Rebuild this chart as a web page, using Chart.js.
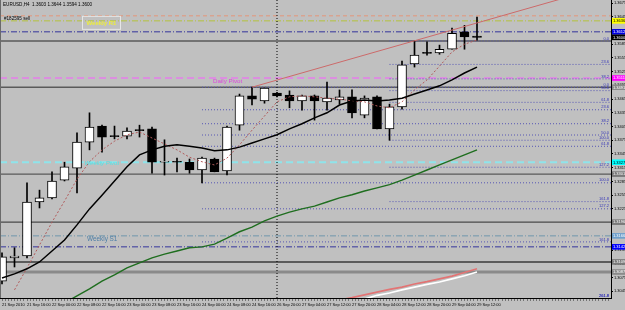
<!DOCTYPE html>
<html><head><meta charset="utf-8">
<script src="https://cdn.jsdelivr.net/npm/chart.js@4/dist/chart.umd.min.js"></script>
<style>html,body{margin:0;padding:0;background:#c0c0c0;overflow:hidden}canvas{display:block}</style>
</head><body>
<canvas id="c" width="625" height="310"></canvas>
<script>
// ---- data (EURUSD H4, 21 Sep 08:00 .. 29 Sep 12:00) ----
const candleOpen  = [1.3067,1.3118,1.3122,1.3240,1.3249,1.3288,1.3314,1.3371,1.3406,1.3384,1.3384,1.3397,1.3400,1.3327,1.3328,1.3327,1.3310,1.3334,1.3308,1.3408,1.3472,1.3461,1.3478,1.3474,1.3461,1.3472,1.3459,1.3463,1.3470,1.3430,1.3470,1.3400,1.3448,1.3542,1.3566,1.3566,1.3574,1.3612,1.3603];
const candleHigh  = [1.3129,1.3140,1.3282,1.3266,1.3306,1.3327,1.3391,1.3435,1.3408,1.3406,1.3402,1.3408,1.3404,1.3376,1.3336,1.3334,1.3338,1.3336,1.3406,1.3476,1.3491,1.3489,1.3480,1.3483,1.3474,1.3474,1.3502,1.3485,1.3485,1.3472,1.3472,1.3454,1.3548,1.3592,1.3590,1.3583,1.3620,1.3626,1.3644];
const candleLow   = [1.3061,1.3098,1.3118,1.3227,1.3247,1.3286,1.3260,1.3354,1.3349,1.3378,1.3378,1.3382,1.3303,1.3299,1.3306,1.3303,1.3282,1.3306,1.3299,1.3397,1.3452,1.3456,1.3470,1.3446,1.3441,1.3419,1.3441,1.3454,1.3424,1.3424,1.3400,1.3375,1.3443,1.3535,1.3561,1.3563,1.3574,1.3574,1.3594];
const candleClose = [1.3120,1.3122,1.3240,1.3249,1.3286,1.3317,1.3371,1.3404,1.3382,1.3383,1.3395,1.3396,1.3327,1.3328,1.3327,1.3310,1.3336,1.3306,1.3404,1.3472,1.3465,1.3489,1.3472,1.3461,1.3472,1.3461,1.3467,1.3470,1.3435,1.3467,1.3400,1.3448,1.3540,1.3561,1.3565,1.3574,1.3609,1.3601,1.3600];

const timeLabels = ["21 Sep 2010","21 Sep 16:00","22 Sep 00:00","22 Sep 08:00","22 Sep 16:00","23 Sep 00:00","23 Sep 08:00","23 Sep 16:00","24 Sep 00:00","24 Sep 08:00","24 Sep 16:00","26 Sep 20:00","27 Sep 04:00","27 Sep 12:00","27 Sep 20:00","28 Sep 04:00","28 Sep 12:00","28 Sep 20:00","29 Sep 04:00","29 Sep 12:00"];
const priceTicks = [1.3675,1.3645,1.3615,1.3585,1.3555,1.3525,1.3495,1.3465,1.3435,1.3405,1.3375,1.3345,1.3315,1.3285,1.3255,1.3225,1.3195,1.3165,1.3135,1.3105,1.3075,1.3045];

const maBlack = [1.3074,1.3083,1.3094,1.3109,1.3133,1.3157,1.3190,1.3225,1.3255,1.3286,1.3317,1.3343,1.3354,1.3362,1.3365,1.3362,1.3358,1.3352,1.3354,1.3360,1.3369,1.3378,1.3387,1.3400,1.3411,1.3424,1.3435,1.3452,1.3461,1.3463,1.3461,1.3463,1.3467,1.3476,1.3485,1.3494,1.3507,1.3522,1.3535];
const maGreen = [null,null,null,null,null,1.3019,1.3035,1.3050,1.3067,1.3081,1.3096,1.3107,1.3118,1.3126,1.3133,1.3140,1.3142,1.3148,1.3161,1.3175,1.3185,1.3199,1.3209,1.3218,1.3225,1.3231,1.3240,1.3249,1.3256,1.3264,1.3271,1.3278,1.3288,1.3299,1.3310,1.3321,1.3332,1.3343,1.3354];
const maRedDot = [null,1.3048,1.3096,1.3146,1.3196,1.3242,1.3290,1.3328,1.3354,1.3373,1.3387,1.3393,1.3380,1.3367,1.3354,1.3338,1.3328,1.3321,1.3336,1.3365,1.3397,1.3428,1.3459,1.3470,1.3472,1.3470,1.3467,1.3465,1.3461,1.3459,1.3450,1.3446,1.3459,1.3485,1.3507,1.3537,1.3568,1.3585,1.3594];
const maLongRed = [null,null,null,null,null,null,null,null,null,null,null,null,null,null,null,null,null,null,null,null,null,null,null,null,null,null,null,1.3026,1.3031,1.3037,1.3043,1.3049,1.3054,1.3061,1.3066,1.3072,1.3078,1.3086,1.3094];
const maLongWhite = [null,null,null,null,null,null,null,null,null,null,null,null,null,null,null,null,null,null,null,null,null,null,null,null,null,null,null,null,1.3020,1.3028,1.3036,1.3041,1.3048,1.3054,1.3060,1.3065,1.3072,1.3079,1.3087];

const levelPrices = [1.3647,1.3636,1.3612,1.3592,1.3511,1.3491,1.3327,1.3301,1.3196,1.3166,1.3142,1.3109,1.3087];
const fibRatios = [0,23.6,38.2,50,61.8,100,127.2,161.8,261.8];
const fibStartIdx = [16,31];
const fibLowIdx = [16,31];
const fibHighIdx = [20,33];
const trendIdx = [20,48.7];
const trendPrice = [1.3491,1.3715];
const separatorIdx = 22;

// ---- geometry of the MT4 window ----
const X_MIN=-0.16, X_MAX=48.72, Y_MIN=1.30302, Y_MAX=1.36816;

const levelStyles = [
  {c:'#e4967a',w:1,d:[4,3]},
  {c:'#b4c23c',w:1,d:[6,2,1,2]},
  {c:'#34349c',w:1,d:[6,2,1,2]},
  {c:'#5a5a5a',w:1.4,d:[]},
  {c:'#dc8ee0',w:2,d:[7,4]},
  {c:'#5a5a5a',w:1.4,d:[]},
  {c:'#8ee4ea',w:2,d:[7,4]},
  {c:'#5a5a5a',w:1.4,d:[]},
  {c:'#4a4a4a',w:1.4,d:[]},
  {c:'#6f96ac',w:1,d:[6,2,1,2]},
  {c:'#34349c',w:1,d:[6,2,1,2]},
  {c:'#3a3a3a',w:1.4,d:[]},
  {c:'#8a8a8a',w:3,d:[]}
];
const levelTags = [null,['#ffff00','#000'],['#0000e0','#fff'],null,['#ff00ff','#fff'],['#8a8a8a','#fff'],['#00ffff','#000'],['#7a7a7a','#fff'],['#7a7a7a','#fff'],['#6fa0cc','#fff'],['#0000ff','#fff'],['#7a7a7a','#fff'],['#8a8a8a','#fff']];

const datasets = [];
levelPrices.forEach((p,i)=>{
  datasets.push({type:'line',data:[{x:X_MIN,y:p},{x:X_MAX,y:p}],borderColor:levelStyles[i].c,borderWidth:levelStyles[i].w,borderDash:levelStyles[i].d,pointRadius:0,order:20});
});
fibStartIdx.forEach((s,k)=>{
  const hi=candleHigh[fibHighIdx[k]], lo=candleLow[fibLowIdx[k]];
  fibRatios.forEach(r=>{
    const p=hi-(hi-lo)*r/100;
    datasets.push({type:'line',data:[{x:s,y:p},{x:X_MAX,y:p}],borderColor:'#5656b4',borderWidth:1,borderDash:[1,2],pointRadius:0,order:19});
  });
});
datasets.push({type:'line',data:[{x:separatorIdx,y:Y_MIN},{x:separatorIdx,y:Y_MAX}],borderColor:'#000',borderWidth:1,borderDash:[1,2],pointRadius:0,order:18});
datasets.push({type:'bar',data:candleHigh.map((h,i)=>({x:i,y:[candleLow[i],h]})),backgroundColor:'#000',borderWidth:0,barThickness:1,grouped:false,order:10});
datasets.push({type:'bar',data:candleOpen.map((o,i)=>({x:i,y:[o,candleClose[i]]})),
  backgroundColor:candleOpen.map((o,i)=>candleClose[i]>=o?'#ffffff':'#000000'),
  borderColor:'#000',borderWidth:1,borderSkipped:false,barThickness:9,minBarLength:1,grouped:false,order:9});
function lineDs(arr,color,w,dash,order){
  return {type:'line',data:arr.map((v,i)=>({x:i,y:v})),borderColor:color,borderWidth:w,borderDash:dash,pointRadius:0,tension:0,spanGaps:false,order};
}
datasets.push(lineDs(maLongRed,'#e27474',1.6,[],5));
datasets.push(lineDs(maLongWhite,'#ffffff',1.6,[],5));
datasets.push(lineDs(maGreen,'#1f6e1f',1.4,[],4));
datasets.push(lineDs(maRedDot,'#b25a5a',1,[2,2],3));
datasets.push(lineDs(maBlack,'#000000',1.5,[],2));
datasets.push({type:'line',data:trendIdx.map((x,i)=>({x,y:trendPrice[i]})),borderColor:'#cc6a6a',borderWidth:1,pointRadius:0,order:1});

const FONT='"Liberation Sans", Arial, sans-serif';
const bg={id:'bg',beforeDraw(c){const g=c.ctx;g.save();g.fillStyle='#c0c0c0';g.fillRect(0,0,c.width,c.height);g.restore();}};
const annot={id:'annot',afterDraw(c){
  const g=c.ctx, xs=c.scales.x, ys=c.scales.y, A=c.chartArea;
  g.save();
  // frame
  g.strokeStyle='#6a6a6a';g.lineWidth=1;g.beginPath();g.moveTo(0.5,0);g.lineTo(0.5,A.bottom);g.stroke();
  // header
  g.fillStyle='#000';g.font='4.6px '+FONT;g.textBaseline='middle';g.textAlign='left';
  g.fillText('EURUSD,H4  1.3603 1.3644 1.3594 1.3600',3,4.5);
  const yS=ys.getPixelForValue(levelPrices[1]);
  g.fillText('#182595 sell',4,yS-2.5);
  // Weekly R1 label
  g.strokeStyle='#e6e6e6';g.lineWidth=1;g.strokeRect(82.5,yS-4.5,38,13);
  g.fillStyle='#ecec3c';g.font='bold 6px '+FONT;g.textAlign='center';g.fillText('Weekly R1',101.5,yS+2);
  // Daily Pivot
  g.textAlign='left';g.font='6.2px '+FONT;g.fillStyle='#dc46dc';
  g.fillText('Daily Pivot',xs.getPixelForValue(16.88),ys.getPixelForValue(levelPrices[4])+3.5);
  g.font='italic 6px '+FONT;g.fillStyle='#52e2e6';
  g.fillText('Weekly Pivot',xs.getPixelForValue(6.6),ys.getPixelForValue(levelPrices[6])+1);
  g.font='6.4px '+FONT;g.fillStyle='#4d7ea6';
  g.fillText('Weekly S1',xs.getPixelForValue(6.8),ys.getPixelForValue(levelPrices[9])+3.8);
  // fib labels
  g.font='4px '+FONT;g.fillStyle='#3636b8';g.textAlign='right';g.textBaseline='bottom';
  fibStartIdx.forEach((s,k)=>{
    const hi=candleHigh[fibHighIdx[k]], lo=candleLow[fibLowIdx[k]];
    fibRatios.forEach(r=>{const p=hi-(hi-lo)*r/100;const y=Math.min(ys.getPixelForValue(p),A.bottom);g.fillText(r.toFixed(1),A.right-2,y-0.5);});
  });
  // price tags on axis
  g.textAlign='left';g.textBaseline='middle';g.font='4px '+FONT;
  const tag=(p,bgc,fg)=>{const y=ys.getPixelForValue(p);g.fillStyle=bgc;g.fillRect(A.right+1,y-2.8,14,5.6);g.fillStyle=fg;g.fillText(p.toFixed(4),A.right+2,y+0.2);};
  levelPrices.forEach((p,i)=>{if(levelTags[i])tag(p,levelTags[i][0],levelTags[i][1]);});
  tag(candleClose[candleClose.length-1],'#000','#fff');
  g.restore();
}};

new Chart(document.getElementById('c'),{
  type:'bar',
  data:{datasets},
  plugins:[bg,annot],
  options:{
    responsive:false,animation:false,events:[],
    layout:{padding:0},
    plugins:{legend:{display:false},tooltip:{enabled:false}},
    scales:{
      x:{type:'linear',position:'bottom',min:X_MIN,max:X_MAX,offset:false,
        grid:{display:true,offset:false,drawOnChartArea:false,drawTicks:true,tickLength:3,color:'#404040',lineWidth:0.6},
        border:{display:true,color:'#000',width:1},
        ticks:{autoSkip:false,maxRotation:0,minRotation:0,align:'start',padding:1,color:'#000',font:{size:4,family:FONT},
          callback:(v)=>{const k=Math.round(v*4)/4; if(Number.isInteger(k)&&k%2===0&&k/2<timeLabels.length) return timeLabels[k/2]; return '';}},
        afterBuildTicks:(s)=>{const t=[];for(let v=0;v<=48.5;v+=0.25)t.push({value:v});s.ticks=t;},
        afterFit:(s)=>{s.height=12;s.paddingLeft=0;s.paddingRight=0;}
      },
      y:{type:'linear',position:'right',min:Y_MIN,max:Y_MAX,
        grid:{display:true,drawOnChartArea:false,drawTicks:true,tickLength:2,color:'#000'},
        border:{display:true,color:'#000',width:1},
        ticks:{padding:1,color:'#000',font:{size:4,family:FONT},callback:(v)=>Number(v).toFixed(4)},
        afterBuildTicks:(s)=>{s.ticks=priceTicks.map(v=>({value:v}));},
        afterFit:(s)=>{s.width=14;s.paddingTop=0;s.paddingBottom=0;}
      }
    }
  }
});
</script>
</body></html>
